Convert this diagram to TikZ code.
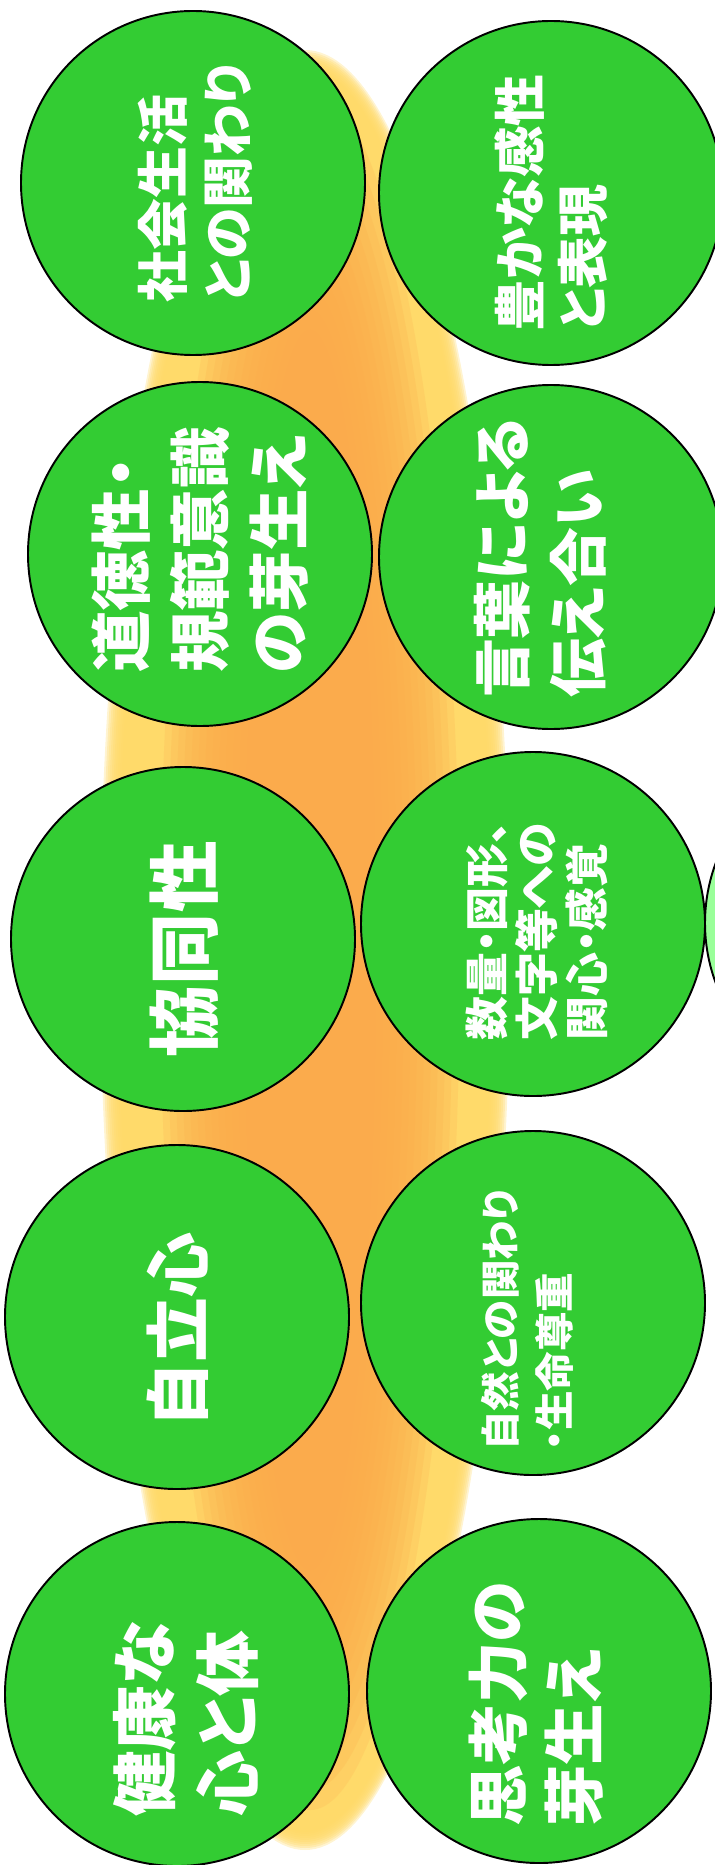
\documentclass[tikz,border=0pt]{standalone}
\usepackage{fontspec}
\newfontfamily\jpfont{Noto Sans CJK JP}[RawFeature=+palt]
\definecolor{leaf}{RGB}{51,204,51}
\definecolor{paleleaf}{RGB}{153,255,153}
\definecolor{blobyellow}{RGB}{255,217,102}
\definecolor{bloborange}{RGB}{251,170,75}

\begin{document}
\begin{tikzpicture}[x=0.02cm,y=-0.02cm,
  bubble/.style={draw=black,line width=1.1pt,fill=leaf},
  lbl/.style={text=white,rotate=90,align=left,inner sep=0pt},
  sz/.style 2 args={font=\jpfont\bfseries\fontsize{#1}{#2}\selectfont}]
\useasboundingbox (0,0) rectangle (715,1865);
\clip (0,0) rectangle (715,1865);
\foreach\k in {0,...,9}
\fill[blobyellow,opacity=0.3] (305,950) ellipse [x radius=205-2*\k,y radius=900-2*\k];
\foreach\k in {0,...,14}
\fill[bloborange,opacity=0.2] (310,950) ellipse [x radius=150-7*\k,y radius=860-20*\k];
\draw[bubble] (193,183) circle [radius=172];
\draw[bubble] (551,193) circle [radius=172];
\draw[bubble] (200,554) circle [radius=172];
\draw[bubble] (551,557) circle [radius=172];
\draw[bubble] (183,939) circle [radius=172];
\draw[bubble] (533,924) circle [radius=172];
\draw[bubble,fill=paleleaf] (877,923) circle [radius=172];
\draw[bubble] (177,1317) circle [radius=172];
\draw[bubble] (533,1303) circle [radius=172];
\draw[bubble] (177,1694) circle [radius=172];
\draw[bubble] (539,1691) circle [radius=172];
\node[lbl,sz={29.5}{37}] (shakai) at (195,183) {社会生活\\との関わり};
\node[lbl,sz={29.5}{36}] (yutaka) at (551,203) {豊かな感性\\と表現};
\node[lbl,sz={35}{45}] (dotoku) at (200,550) {道徳性・\\規範意識\\の芽生え};
\node[lbl,sz={33.5}{43.5}] (kotoba) at (540,558) {言葉による\\伝え合い};
\node[lbl,sz={41}{50}] (kyodo) at (184,949) {協同性};
\node[lbl,sz={25}{28.5}] (suryo) at (537,931) {数量・図形、\\文字等への\\関心・感覚};
\node[lbl,sz={37}{45}] (jiritsu) at (178,1330) {自立心};
\node[lbl,sz={22.5}{30.6}] (shizen) at (527,1320) {自然との関わり\\・生命尊重};
\node[lbl,sz={37.4}{47.6}] (kenko) at (186,1719) {健康な\\心と体};
\node[lbl,sz={35}{43}] (shiko) at (536,1704) {思考力の\\芽生え};
\end{tikzpicture}
\end{document}
